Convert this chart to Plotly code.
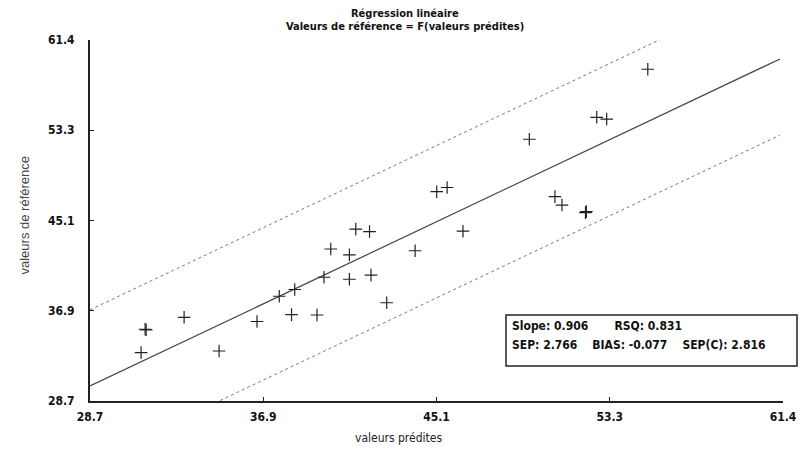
import plotly.graph_objects as go

# ---- data ----
pred_x = [31.30, 31.35, 31.11, 33.14, 34.79, 36.58, 37.63, 38.21, 38.36, 39.41,
          39.74, 40.06, 40.94, 40.94, 41.24, 41.89, 41.96, 42.70, 44.04, 45.06,
          45.55, 46.30, 49.43, 50.64, 50.97, 52.08, 52.12, 52.61, 53.08, 55.02]
ref_y = [35.20, 35.15, 33.08, 36.28, 33.23, 35.90, 38.19, 36.52, 38.80, 36.49,
         39.91, 42.47, 41.94, 39.73, 44.27, 44.05, 40.10, 37.60, 42.31, 47.66,
         48.04, 44.08, 52.41, 47.21, 46.45, 45.76, 45.85, 54.40, 54.24, 58.75]

axis_min = 28.7
axis_max = 61.4
tick_labels = ["28.7", "36.9", "45.1", "53.3", "61.4"]

line_slope = 0.91
line_intercept = 3.94
band_offset = 6.9
line_x_end = 61.26

stats_line1 = ["Slope: 0.906", "RSQ: 0.831"]
stats_line2 = ["SEP: 2.766", "BIAS: -0.077", "SEP(C): 2.816"]

title1 = "Régression linéaire"
title2 = "Valeurs de référence = F(valeurs prédites)"
xlabel = "valeurs prédites"
ylabel = "valeurs de référence"

# ---- derived ----
step = (axis_max - axis_min) / (len(tick_labels) - 1)
tick_vals = [axis_min + i * step for i in range(len(tick_labels))]
lx = [axis_min, line_x_end]
ly = [line_intercept + line_slope * v for v in lx]
ly_up = [v + band_offset for v in ly]
ly_lo = [v - band_offset for v in ly]

FONT = "Liberation Sans Narrow, DejaVu Sans Condensed, Arial Narrow, Liberation Sans, sans-serif"
NB = "&nbsp;"

fig = go.Figure()
fig.add_trace(go.Scatter(x=lx, y=ly_up, mode="lines",
                         line=dict(color="#7a7a7a", width=1, dash="3px,3px"),
                         hoverinfo="skip"))
fig.add_trace(go.Scatter(x=lx, y=ly_lo, mode="lines",
                         line=dict(color="#7a7a7a", width=1, dash="3px,3px"),
                         hoverinfo="skip"))
fig.add_trace(go.Scatter(x=lx, y=ly, mode="lines",
                         line=dict(color="#444444", width=1.2),
                         hoverinfo="skip"))
fig.add_trace(go.Scatter(x=pred_x, y=ref_y, mode="markers",
                         marker=dict(symbol="cross-thin", size=9,
                                     line=dict(color="#222222", width=1.2)),
                         cliponaxis=False))

axis_common = dict(
    range=[axis_min, axis_max], tickvals=tick_vals, ticktext=tick_labels,
    showgrid=False, zeroline=False, showline=True, linecolor="#222222",
    ticks="inside", ticklen=4, tickcolor="#222222", automargin=False,
    tickfont=dict(family=FONT, size=12, color="#111111", weight="bold"),
)

fig.update_layout(
    width=800, height=453,
    margin=dict(l=90, r=17, t=40, b=52, autoexpand=False),
    paper_bgcolor="white", plot_bgcolor="white",
    showlegend=False,
    xaxis=dict(**axis_common, linewidth=1.5, ticklabelstandoff=4),
    yaxis=dict(**axis_common, linewidth=2, ticklabelstandoff=11),
)

def px_x(p):
    return (p - 90) / 693

def px_y(p):
    return (401 - p) / 361

def note(x, y, text, font, **kw):
    fig.add_annotation(xref="paper", yref="paper", x=px_x(x), y=px_y(y),
                       text=text, showarrow=False, yanchor="middle",
                       font=font, **kw)

note(405, 13, "<b>" + title1 + "</b>", dict(family=FONT, size=11, color="#111111"))
note(405, 27, "<b>" + title2 + "</b>", dict(family=FONT, size=11, color="#111111"))
note(398, 438, xlabel, dict(family=FONT, size=12, color="#222222"))
note(14, 215, ylabel, dict(family="Liberation Sans, Arial, sans-serif", size=13, color="#444444"),
     textangle=-90)

# stats box
bx0, bx1, by0, by1 = 506, 797, 315, 366
fig.add_shape(type="rect", xref="paper", yref="paper",
              x0=px_x(bx0), x1=px_x(bx1), y0=px_y(by1), y1=px_y(by0),
              line=dict(color="#222222", width=1.5), fillcolor="white", layer="above")
note(510, 326, "<b>" + (NB * 7).join(stats_line1) + "</b>",
     dict(family=FONT, size=12, color="#111111"), xanchor="left")
note(510, 345, "<b>" + (NB * 4).join(stats_line2) + "</b>",
     dict(family=FONT, size=12, color="#111111"), xanchor="left")

fig.write_html("out.html")
